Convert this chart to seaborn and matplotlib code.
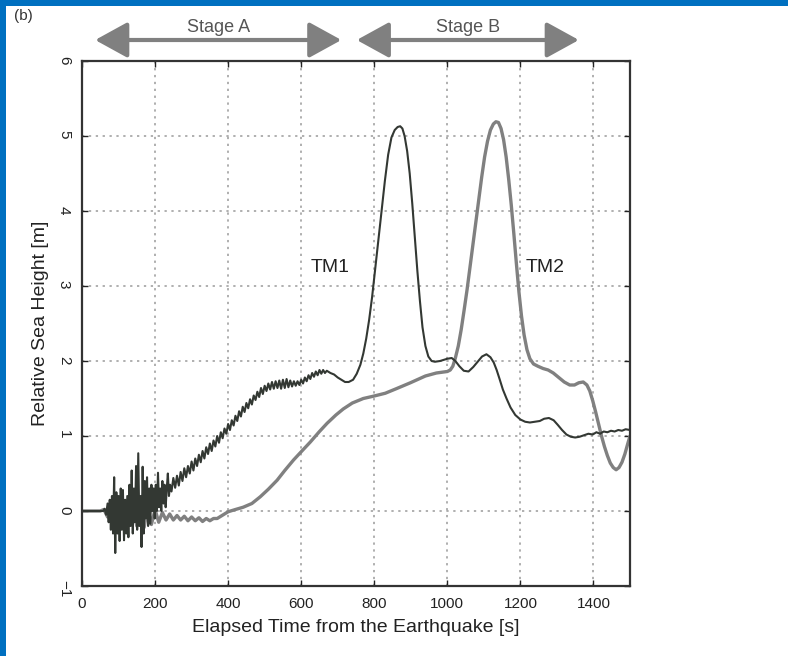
import numpy as np
import pandas as pd
import matplotlib
matplotlib.use("Agg")
import matplotlib.pyplot as plt
import seaborn as sns
from matplotlib.patches import Rectangle

# ---- data ----
tm1_t = [0, 50, 58, 62, 66, 70, 73, 76, 79, 82, 85, 88, 91, 94, 97, 100, 103, 106, 109, 112,
         115, 118, 121, 124, 127, 130, 133, 136, 139, 142, 145, 148, 151, 154, 157, 160, 163,
         166, 169, 172, 175, 178, 181, 184, 187, 190, 193, 196, 199, 202, 205, 208, 211, 214,
         217, 220, 223, 226, 229, 232, 235, 238, 241,
         245, 250, 255, 260, 265, 270, 275, 280, 285, 290, 295, 300, 305, 310, 315, 320, 325,
         330, 335, 340, 345, 350, 355, 360, 365, 370, 375, 380, 385, 390, 395, 400, 405, 410,
         415, 420, 425, 430, 435, 440, 445, 450, 455, 460, 465, 470, 475, 480, 485, 490, 495,
         500, 505, 510, 515, 520, 525, 530, 535, 540, 545, 550, 555, 560, 565, 570, 575, 580,
         585, 590, 595, 600, 605, 610, 615, 620, 625, 630, 635, 640, 645, 650, 655, 660, 665,
         670, 680, 690, 700, 710, 720, 730, 742, 752, 762, 770, 778, 786, 794, 802, 811, 820,
         829, 838, 847, 856, 864, 871, 877, 883, 890, 897, 904, 911, 918, 925, 932, 940, 948,
         957, 966, 980, 1000, 1012, 1022, 1033, 1045, 1058, 1071, 1083, 1095, 1107, 1118, 1127,
         1135, 1143, 1152, 1162, 1173, 1186, 1200, 1213, 1226, 1240, 1253, 1265, 1278, 1291,
         1302, 1314, 1326, 1338, 1350, 1362, 1374, 1386, 1398, 1408, 1418, 1428, 1438, 1448,
         1458, 1468, 1478, 1488, 1500]
tm1_h = [0.0, 0.0, 0.0, 0.03, -0.05, 0.1, -0.15, 0.15, -0.25, 0.2, -0.3, 0.45, -0.56, 0.25,
         -0.3, 0.2, -0.4, 0.3, -0.25, 0.28, -0.39, 0.15, -0.3, 0.2, -0.35, 0.35, -0.2, 0.54,
         -0.3, 0.3, -0.15, 0.6, -0.25, 0.77, -0.2, 0.2, -0.48, 0.59, -0.3, 0.4, -0.1, 0.45,
         -0.2, 0.3, -0.17, 0.35, 0.0, 0.3, -0.1, 0.35, 0.0, 0.51, 0.05, 0.3, 0.0, 0.4, 0.1,
         0.35, 0.05, 0.3, 0.5, 0.2, 0.35,
         0.26, 0.44, 0.31, 0.47, 0.34, 0.52, 0.4, 0.57, 0.45, 0.6, 0.5, 0.66, 0.54, 0.7,
         0.6, 0.75, 0.65, 0.8, 0.7, 0.85, 0.76, 0.9, 0.8, 0.94, 0.86, 1.0, 0.91, 1.05,
         0.97, 1.1, 1.03, 1.16, 1.08, 1.21, 1.14, 1.27, 1.2, 1.33, 1.26, 1.39, 1.32, 1.44,
         1.37, 1.49, 1.42, 1.54, 1.48, 1.59, 1.52, 1.64, 1.56, 1.67, 1.6, 1.7, 1.62, 1.72,
         1.63, 1.73, 1.64, 1.74, 1.63, 1.75, 1.64, 1.76, 1.65, 1.74, 1.66, 1.73, 1.67, 1.73,
         1.68, 1.75, 1.7, 1.78, 1.73, 1.81, 1.76, 1.84, 1.79, 1.86, 1.81, 1.88, 1.83, 1.88,
         1.84, 1.87, 1.84, 1.82, 1.78, 1.75, 1.72, 1.72, 1.75, 1.83, 1.95, 2.1, 2.3, 2.55,
         2.85, 3.2, 3.6, 4.0, 4.4, 4.75, 4.98, 5.08, 5.12, 5.13, 5.1, 5.0, 4.8, 4.5, 4.1,
         3.65, 3.2, 2.8, 2.45, 2.2, 2.06, 2.0, 1.99, 2.0, 2.03, 2.04, 2.0, 1.93, 1.87, 1.86,
         1.92, 1.99, 2.06, 2.09, 2.05, 1.98, 1.88, 1.76, 1.62, 1.5, 1.38, 1.28, 1.22, 1.19,
         1.18, 1.19, 1.2, 1.23, 1.24, 1.21, 1.15, 1.08, 1.02, 0.99, 0.98, 0.99, 1.01, 1.03,
         1.02, 1.05, 1.03, 1.06, 1.05, 1.07, 1.06, 1.08, 1.07, 1.09, 1.08]

tm2_t = [0, 50, 60, 70, 80, 90, 100, 110, 120, 130, 140, 150, 160, 170, 180, 190, 200, 210,
         220, 230, 240, 250, 260, 270, 280, 290, 300, 310, 320, 330, 340, 350, 360, 370, 380,
         390, 400, 420, 441, 465, 488, 510, 534, 555, 579, 600, 625, 650, 671, 695, 715, 740,
         770, 797, 830, 860, 899, 940, 970, 1000, 1008, 1015, 1022, 1030, 1038, 1046, 1054,
         1062, 1070, 1078, 1086, 1094, 1102, 1110, 1118, 1126, 1133, 1140, 1147, 1154, 1161,
         1168, 1175, 1182, 1189, 1196, 1203, 1210, 1218, 1226, 1236, 1248, 1262, 1276, 1290,
         1305, 1320, 1335, 1348, 1360, 1372, 1382, 1390, 1398, 1406, 1414, 1422, 1430, 1438,
         1446, 1454, 1462, 1470, 1478, 1486, 1494, 1500]
tm2_h = [0.0, 0.0, 0.02, -0.08, 0.1, -0.15, 0.12, -0.2, 0.1, -0.18, 0.12, -0.2, 0.08, -0.22,
         0.05, -0.18, 0.02, -0.15, -0.02, -0.12, -0.04, -0.12, -0.06, -0.12, -0.07, -0.13,
         -0.08, -0.13, -0.09, -0.14, -0.1, -0.13, -0.1, -0.1, -0.07, -0.04, -0.01, 0.02, 0.05,
         0.1, 0.19, 0.29, 0.41, 0.54, 0.68, 0.79, 0.92, 1.06, 1.17, 1.28, 1.36, 1.44, 1.5,
         1.53, 1.57, 1.63, 1.71, 1.8, 1.84, 1.86, 1.88, 1.93, 2.04, 2.2, 2.42, 2.68, 2.95,
         3.25, 3.55, 3.85, 4.15, 4.45, 4.72, 4.93, 5.08, 5.16, 5.19, 5.18, 5.1, 4.95, 4.72,
         4.42, 4.08, 3.7, 3.3, 2.92, 2.6, 2.35, 2.15, 2.03, 1.96, 1.93, 1.9, 1.88, 1.84,
         1.78, 1.72, 1.68, 1.68, 1.71, 1.72, 1.68, 1.6, 1.47, 1.32, 1.16, 1.0, 0.86, 0.74,
         0.64, 0.58, 0.55, 0.58, 0.65, 0.76, 0.9, 1.0]

x_ticks = [0, 200, 400, 600, 800, 1000, 1200, 1400]
y_ticks = [-1, 0, 1, 2, 3, 4, 5, 6]
series_labels = ["TM1", "TM2"]
stage_labels = ["Stage A", "Stage B"]

# ---- plotting ----
sns.set_theme(style="white")
plt.rcParams["font.family"] = ["Liberation Sans", "DejaVu Sans"]

fig = plt.figure(figsize=(7.88, 6.56), dpi=100)
ax = fig.add_axes([82 / 788, 70 / 656, 548 / 788, 525 / 656])

df1 = pd.DataFrame({"t": tm1_t, "h": tm1_h})
df2 = pd.DataFrame({"t": tm2_t, "h": tm2_h})
sns.lineplot(data=df2, x="t", y="h", ax=ax, color="#808080", linewidth=2.4,
             estimator=None, sort=False)
sns.lineplot(data=df1, x="t", y="h", ax=ax, color="#333833", linewidth=1.5,
             estimator=None, sort=False)

ax.set_xlim(0, 1500)
ax.set_ylim(-1, 6)
ax.set_xticks(x_ticks)
ax.set_yticks(y_ticks)
ax.grid(True, linestyle=(0, (1.5, 3)), color="#9a9a9a", linewidth=1.1)
ax.tick_params(direction="in", length=4, width=1, top=True, right=True,
               bottom=True, left=True, labelsize=11, colors="#222222", pad=8)
ax.tick_params(axis="y", labelrotation=270)
for s in ax.spines.values():
    s.set_color("#333333")
    s.set_linewidth(1.6)

ax.set_xlabel("Elapsed Time from the Earthquake [s]", fontsize=14, color="#222222", labelpad=6)
ax.set_ylabel("Relative Sea Height [m]", fontsize=14, color="#222222", labelpad=6)

ax.text(680, 3.25, series_labels[0], fontsize=14, ha="center", va="center", color="#222222")
ax.text(1268, 3.25, series_labels[1], fontsize=14, ha="center", va="center", color="#222222")

# stage arrows
for (x0, x1), lab in zip([(36, 710), (752, 1360)], stage_labels):
    ax.annotate("", xy=(x0, 6.28), xytext=(x1, 6.28), xycoords="data",
                arrowprops=dict(arrowstyle="<|-|>,head_length=1.0,head_width=0.55",
                                mutation_scale=20, lw=3,
                                color="#808080", shrinkA=0, shrinkB=0),
                annotation_clip=False)
    ax.text((x0 + x1) / 2, 6.44, lab, fontsize=13, ha="center", va="center",
            color="#555555", clip_on=False)

# frame decoration (blue borders and panel letter)
fig.text(14 / 788, 1 - 16 / 656, "(b)", fontsize=11, color="#333333", ha="left", va="center")
fig.patches.append(Rectangle((0, 1 - 6 / 656), 1, 6 / 656, transform=fig.transFigure,
                             facecolor="#0070c0", edgecolor="none", zorder=10))
fig.patches.append(Rectangle((0, 0), 6 / 788, 1, transform=fig.transFigure,
                             facecolor="#0070c0", edgecolor="none", zorder=10))

fig.savefig("out.png", dpi=100)
